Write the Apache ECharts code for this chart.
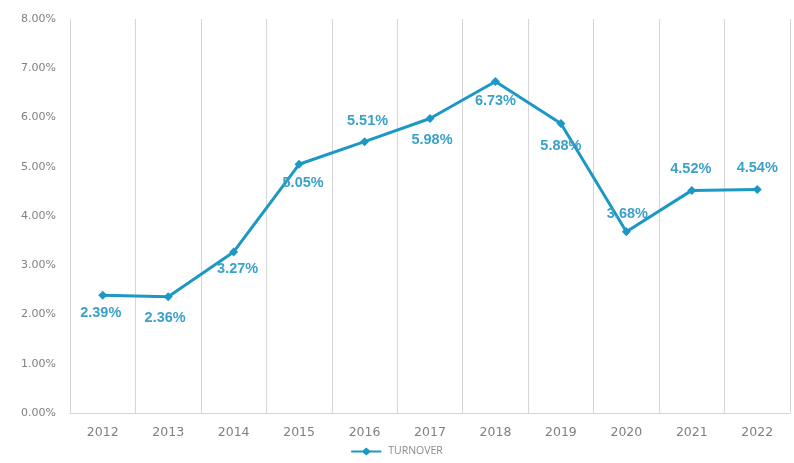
<!DOCTYPE html>
<html><head><meta charset="utf-8">
<script src="https://cdn.jsdelivr.net/npm/echarts@6/dist/echarts.min.js"></script>
<style>html,body{margin:0;padding:0;background:#fff}#c{width:794px;height:463px}</style>
</head><body><div id="c"></div>
<script>
const years = ['2012','2013','2014','2015','2016','2017','2018','2019','2020','2021','2022'];
const turnover = [2.39, 2.36, 3.27, 5.05, 5.51, 5.98, 6.73, 5.88, 3.68, 4.52, 4.54];
const seriesName = 'TURNOVER';

const labelPlacement = [
  {position:'bottom', offset:[-2,1]},
  {position:'bottom', offset:[-3,4]},
  {position:'bottom', offset:[4,0]},
  {position:'bottom', offset:[4,2]},
  {position:'top', offset:[3,-4]},
  {position:'bottom', offset:[2,5]},
  {position:'bottom', offset:[0,2]},
  {position:'bottom', offset:[0,6]},
  {position:'top', offset:[1,-1]},
  {position:'top', offset:[-1,-4]},
  {position:'top', offset:[0,-4]}
];

const chart = echarts.init(document.getElementById('c'), null, {renderer:'canvas'});
chart.setOption({
  animation:false,
  backgroundColor:'#fff',
  grid:{left:70, right:4, top:19, bottom:50, containLabel:false},
  legend:{
    bottom:1, left:'center', itemGap:4,
    itemWidth:34, itemHeight:8,
    textStyle:{color:'#8a8a8a', fontSize:10.5, fontFamily:'Open Sans'},
    data:[{name:seriesName, icon:'path://M0,3.4 L13,3.4 L17,0 L21,3.4 L34,3.4 L34,5.6 L21,5.6 L17,9 L13,5.6 L0,5.6 Z'}]
  },
  xAxis:{
    type:'category', data:years, boundaryGap:true,
    axisLine:{show:true, lineStyle:{color:'#d6d6d6'}},
    axisTick:{show:false},
    splitLine:{show:true, lineStyle:{color:'#d6d6d6', width:1}},
    axisLabel:{color:'#808080', fontSize:12.5, fontFamily:'DejaVu Sans', margin:13}
  },
  yAxis:{
    type:'value', min:0, max:8, interval:1,
    axisLine:{show:true, lineStyle:{color:'#d6d6d6'}},
    axisTick:{show:false},
    splitLine:{show:false},
    axisLabel:{color:'#808080', fontSize:11, fontFamily:'DejaVu Sans', margin:14,
      formatter:v=>v.toFixed(2)+'%'}
  },
  series:[{
    name:seriesName, type:'line',
    data:turnover.map((v,i)=>({value:v, label:labelPlacement[i]})),
    symbol:'diamond', symbolSize:9,
    lineStyle:{color:'#1b98c4', width:3},
    itemStyle:{color:'#1b98c4'},
    label:{show:true, color:'#3aa1c9', fontSize:14.5, fontWeight:'bold', fontFamily:'Liberation Sans',
      formatter:p=>p.value.toFixed(2)+'%'}
  }]
});
</script></body></html>
